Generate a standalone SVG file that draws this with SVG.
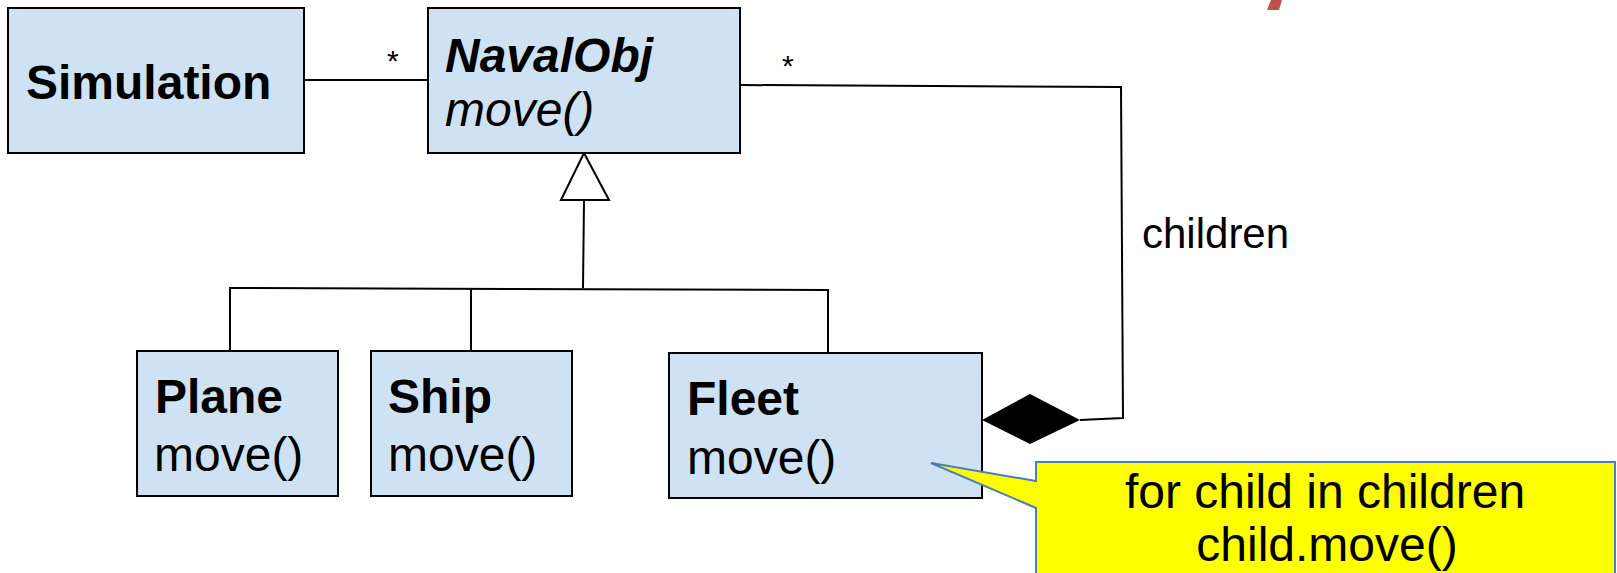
<svg xmlns="http://www.w3.org/2000/svg" width="1617" height="573" viewBox="0 0 1617 573">
<style>
.box{fill:#cfe2f3;stroke:#000;stroke-width:2}
.t{font-family:"Liberation Sans",Arial,sans-serif;font-size:48px;fill:#000}
.b{font-weight:bold}
.i{font-style:italic}
.ln{fill:none;stroke:#000;stroke-width:2}
.star{font-family:"Liberation Sans",Arial,sans-serif;font-size:30px;fill:#000}
</style>
<rect width="1617" height="573" fill="#fff"/>
<polygon points="1271,0 1282,0 1279,10 1267,10" fill="#c0504d"/>
<g id="connectors">
<line class="ln" x1="304" y1="80" x2="428" y2="80"/>
<polyline class="ln" points="740,85 1121,87 1123,418 1080,420"/>
<polygon points="982,420 1030,394 1080,420 1030,444" fill="#000"/>
<polyline class="ln" points="230,351 230,288 828,290 828,354"/>
<line class="ln" x1="471" y1="289" x2="471" y2="351"/>
<line class="ln" x1="583" y1="288" x2="584" y2="200"/>
<polygon points="584,153 561,200 609,200" fill="#fff" stroke="#000" stroke-width="2"/>
<text class="star" x="387" y="71">*</text>
<text class="star" x="782" y="76">*</text>
<text class="t" x="1142" y="248" style="font-size:42px">children</text>
</g>
<g id="Simulation">
<rect class="box" x="8" y="8" width="296" height="145"/>
<text class="t b" x="26" y="99">Simulation</text>
</g>
<g id="NavalObj">
<rect class="box" x="428" y="8" width="312" height="145"/>
<text class="t b i" x="445" y="72">NavalObj</text>
<text class="t i" x="445" y="126">move()</text>
</g>
<g id="Plane">
<rect class="box" x="137" y="351" width="201" height="145"/>
<text class="t b" x="155" y="413">Plane</text>
<text class="t" x="154" y="471">move()</text>
</g>
<g id="Ship">
<rect class="box" x="371" y="351" width="201" height="145"/>
<text class="t b" x="388" y="413">Ship</text>
<text class="t" x="388" y="471">move()</text>
</g>
<g id="Fleet">
<rect class="box" x="669" y="353" width="313" height="145"/>
<text class="t b" x="687" y="415">Fleet</text>
<text class="t" x="687" y="474">move()</text>
</g>
<g id="callout">
<path d="M1036,462 H1615 V580 H1036 V508 L931,463 L1036,481 Z" fill="#ffff00" stroke="#4a7ebb" stroke-width="2"/>
<text class="t" x="1325" y="508" text-anchor="middle">for child in children</text>
<text class="t" x="1327" y="561" text-anchor="middle">child.move()</text>
</g>
</svg>
